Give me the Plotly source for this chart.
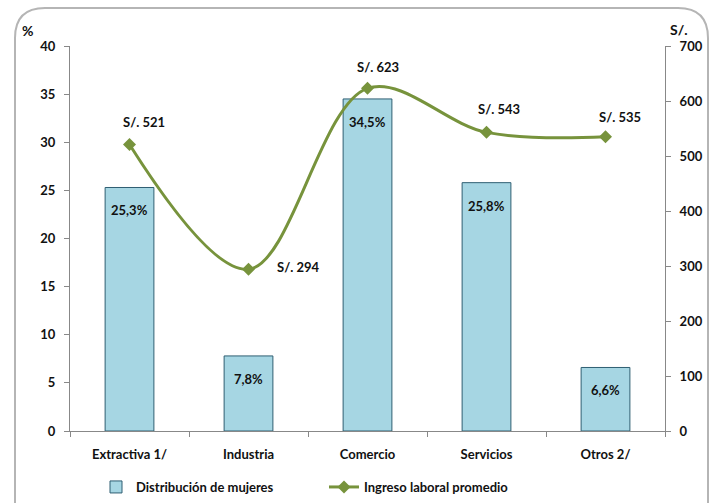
import plotly.graph_objects as go

categorias = ["Extractiva 1/", "Industria", "Comercio", "Servicios", "Otros 2/"]
distribucion = [25.3, 7.8, 34.5, 25.8, 6.6]
ingreso = [521, 294, 623, 543, 535]
bar_labels = ["25,3%", "7,8%", "34,5%", "25,8%", "6,6%"]
line_labels = ["S/. 521", "S/. 294", "S/. 623", "S/. 543", "S/. 535"]

FONT = "Lato"
W, H = 715, 503
L, R, T, B = 70, 50, 46, 72
pw, ph = W - L - R, H - T - B

def px(x):
    return (x - L) / pw

def py(y):
    return (H - B - y) / ph

fig = go.Figure()
fig.add_trace(go.Bar(
    x=categorias, y=distribucion, name="Distribución de mujeres",
    marker=dict(color="#A6D6E3", line=dict(color="#2E5E72", width=1)),
    width=0.41,
))
fig.add_trace(go.Scatter(
    x=categorias, y=ingreso, name="Ingreso laboral promedio", yaxis="y2",
    mode="lines+markers", line=dict(color="#77933C", width=3, shape="spline", smoothing=1.0),
    marker=dict(symbol="diamond", size=10, color="#77933C"),
))

# bar data labels
for c, v, t in zip(categorias, distribucion, bar_labels):
    fig.add_annotation(x=c, y=v, text=t, showarrow=False, yanchor="middle", yshift=-23,
                       font=dict(family=FONT, size=13, color="#111111", weight="bold"))

# line data labels
offsets = [(14, -22), (50, -2), (10, -21), (12, -23), (14, -20)]
for c, v, t, (dx, dy) in zip(categorias, ingreso, line_labels, offsets):
    fig.add_annotation(x=c, y=v, yref="y2", text=t, showarrow=False,
                       xshift=dx, yshift=-dy,
                       font=dict(family=FONT, size=13, color="#111111", weight="bold"))

# axis titles
fig.add_annotation(x=px(20), y=py(20), xref="paper", yref="paper", text="%", showarrow=False,
                   font=dict(family=FONT, size=14, color="#111111", weight="bold"))
fig.add_annotation(x=px(690), y=py(19), xref="paper", yref="paper", text="S/.", showarrow=False,
                   font=dict(family=FONT, size=14, color="#111111", weight="bold"))

# rounded frame
x0, x1, y0, y1 = px(15), px(708), py(8), py(520)
rx, ry = 30 / pw, 30 / ph
path = (f"M {x0+rx},{y0} L {x1-rx},{y0} Q {x1},{y0} {x1},{y0-ry} "
        f"L {x1},{y1} L {x0},{y1} L {x0},{y0-ry} Q {x0},{y0} {x0+rx},{y0} Z")
fig.add_shape(type="path", path=path, xref="paper", yref="paper",
              line=dict(color="#B5B5B5", width=2), layer="below")

tf = dict(family=FONT, size=13, color="#111111", weight="bold")
fig.update_layout(
    width=W, height=H, margin=dict(l=L, r=R, t=T, b=B, autoexpand=False),
    paper_bgcolor="white", plot_bgcolor="white",
    font=dict(family=FONT, size=13, color="#111111"),
    showlegend=True,
    legend=dict(orientation="h", x=px(96), y=py(487), xanchor="left", yanchor="middle",
                entrywidth=183, font=tf),
    xaxis=dict(showline=True, linecolor="#888888", ticks="outside", tickson="boundaries",
               ticklen=5, tickcolor="#888888", showgrid=False, automargin=False,
               ticklabelstandoff=11, tickfont=tf),
    yaxis=dict(range=[0, 40], dtick=5, showline=True, linecolor="#888888", ticks="outside",
               ticklen=5, tickcolor="#888888", showgrid=False, zeroline=False, automargin=False,
               ticklabelstandoff=6, tickfont=tf),
    yaxis2=dict(range=[0, 700], dtick=100, overlaying="y", side="right", showline=True,
                linecolor="#888888", ticks="outside", ticklen=5, tickcolor="#888888",
                showgrid=False, zeroline=False, automargin=False, ticklabelstandoff=6,
                tickfont=tf),
)

fig.write_html("out.html", config={"displayModeBar": False},
               post_script="document.body.style.margin='0';document.body.style.overflow='hidden';")
